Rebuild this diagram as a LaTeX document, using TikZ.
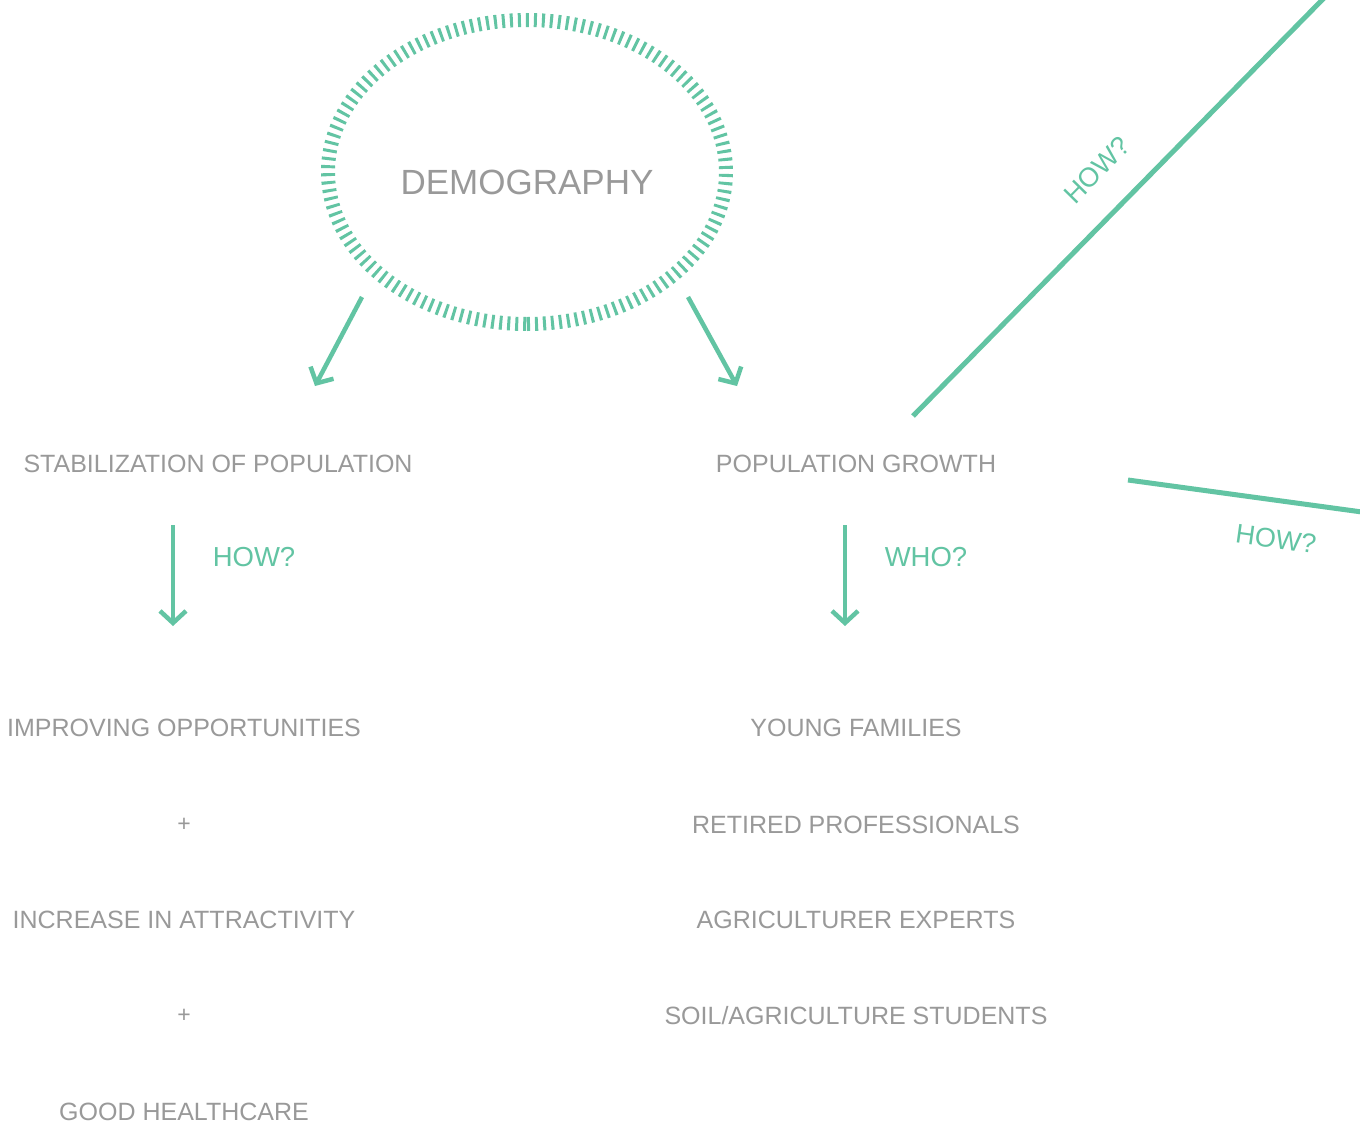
\documentclass[tikz,border=0pt]{standalone}
\usepackage{fontspec}
\setmainfont{Liberation Sans}
\usetikzlibrary{shapes.geometric,arrows.meta}
\definecolor{tgreen}{HTML}{62C4A3}
\definecolor{tgrey}{HTML}{999999}
\tikzset{
  lbl/.style={text=tgrey, font=\fontsize{25}{29}\selectfont, inner sep=0pt, anchor=center},
  plus/.style={text=tgrey, font=\fontsize{23}{26}\selectfont, inner sep=0pt},
  qlbl/.style={text=tgreen, font=\fontsize{27.5}{32}\selectfont, inner sep=0pt},
  arr/.style={draw=tgreen, line width=4.5pt, -{Straight Barb[length=12pt,width=26pt]}},
  gline/.style={draw=tgreen, line width=5pt},
  ticks/.style={draw=tgreen, line width=14pt, dash pattern=on 3pt off 5pt},
}
\begin{document}
\begin{tikzpicture}[x=1pt,y=-1pt]
\useasboundingbox (0,0) rectangle (1360,1127);
\fill[white] (0,0) rectangle (1360,1127);
% central ellipse
\coordinate (ec) at (527,172);
\draw[ticks] ([yshift=-152pt]ec) arc[start angle=-90, end angle=270, x radius=199pt, y radius=152pt];
\node[text=tgrey, font=\fontsize{35}{40}\selectfont, inner sep=0pt] (dem) at (527,182) {DEMOGRAPHY};
% level 1
\node[lbl] (stab) at (218,464) {STABILIZATION OF POPULATION};
\node[lbl] (grow) at (856,464) {POPULATION GROWTH};
% left column
\node[lbl] (impr) at (184,728) {IMPROVING OPPORTUNITIES};
\node[plus] (p1) at (184,825) {+};
\node[lbl] (incr) at (184,920) {INCREASE IN ATTRACTIVITY};
\node[plus] (p2) at (184,1016) {+};
\node[lbl] (heal) at (184,1112) {GOOD HEALTHCARE};
% right column
\node[lbl] (young) at (856,728) {YOUNG FAMILIES};
\node[lbl] (retir) at (856,825) {RETIRED PROFESSIONALS};
\node[lbl] (agri) at (856,920) {AGRICULTURER EXPERTS};
\node[lbl] (soil) at (856,1016) {SOIL/AGRICULTURE STUDENTS};
% arrow end points
\coordinate (a1s) at (362,297);
\coordinate (a1e) at (315,386);
\coordinate (a2s) at (688,297);
\coordinate (a2e) at (737,386);
\coordinate (a3s) at (173,525);
\coordinate (a3e) at (173,626);
\coordinate (a4s) at (845,525);
\coordinate (a4e) at (845,626);
\draw[arr] (a1s) -- (a1e);
\draw[arr] (a2s) -- (a2e);
\draw[arr] (a3s) -- (a3e);
\draw[arr] (a4s) -- (a4e);
\node[qlbl] (how1) at (254,557) {HOW?};
\node[qlbl] (who) at (926,557) {WHO?};
% diagonal lines
\coordinate (d1s) at (913,416);
\coordinate (d1e) at (1325,-3);
\draw[gline] (d1s) -- (d1e);
\node[qlbl, rotate=45.5, font=\fontsize{27}{32}\selectfont] (how2) at (1097,170) {HOW?};
\coordinate (d2s) at (1128,480);
\coordinate (d2e) at (1362,512);
\draw[gline] (d2s) -- (d2e);
\node[qlbl, rotate=-8, font=\fontsize{27}{32}\selectfont] (how3) at (1276,539) {HOW?};
\end{tikzpicture}
\end{document}
